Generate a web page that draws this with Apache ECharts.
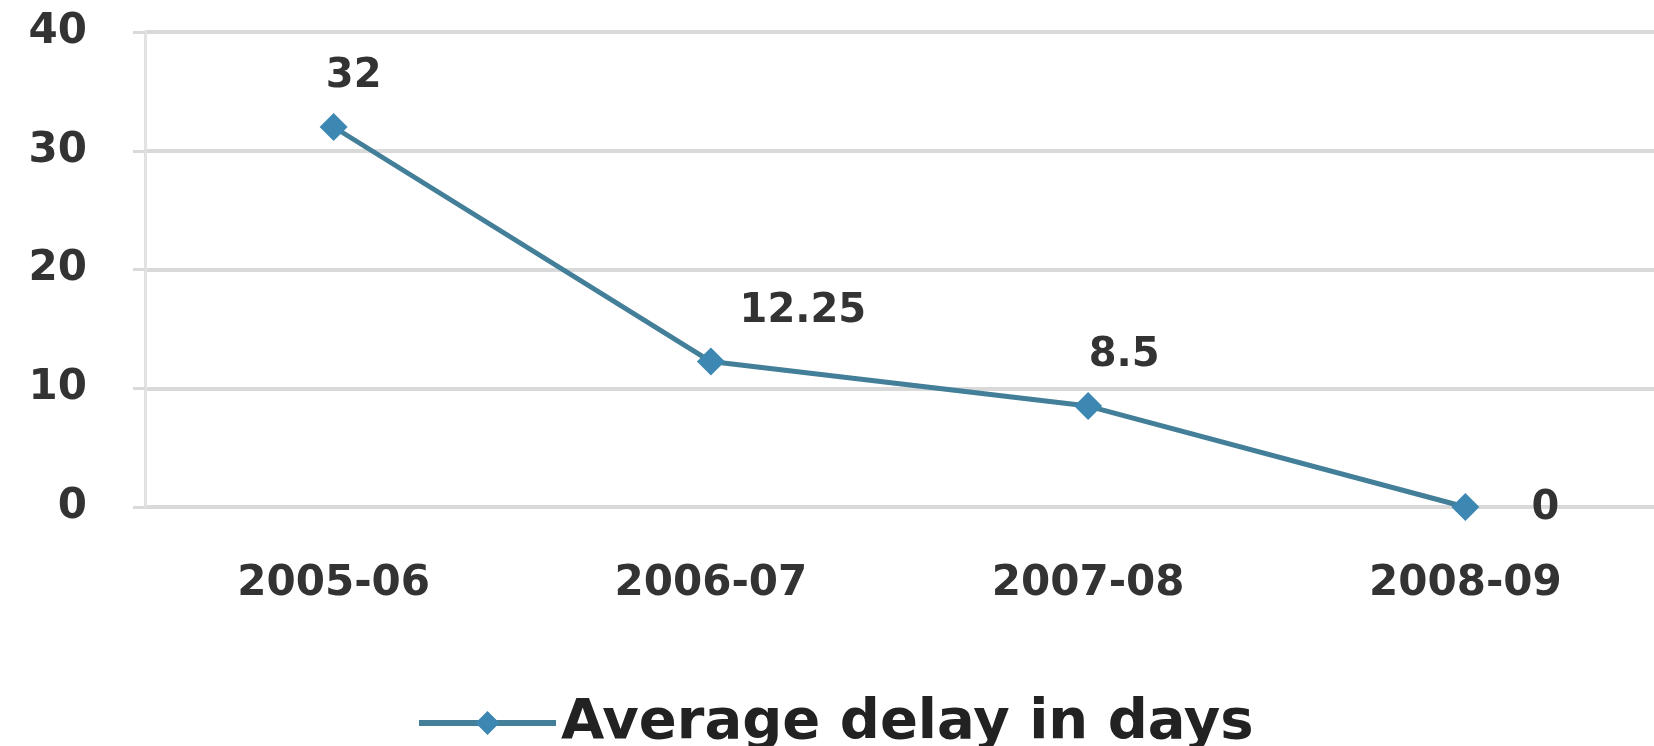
<!DOCTYPE html>
<html>
<head>
    <meta charset="utf-8">
    <title>ECharts</title>
    <script src="https://cdn.jsdelivr.net/npm/echarts@6/dist/echarts.min.js"></script>
    <style>
        html, body { margin: 0; padding: 0; background: #fff; }
    </style>
</head>
<body>
    <div id="main" style="width:1654px;height:746px;"></div>
    <script type="text/javascript">
        var years = ['2005-06', '2006-07', '2007-08', '2008-09'];
        var avgDelay = [32, 12.25, 8.5, 0];
        var yTicks = { min: 0, max: 40, interval: 10 };

        // label placement per point, like the excel original
        var labelOffsets = [[20, 0], [92, 0], [36, 0], [80, 52]];

        var myChart = echarts.init(document.getElementById('main'));

        var font = 'DejaVu Sans';
        var textColor = '#333';

        option = {
            animation: false,
            grid: { left: 145, right: 0, top: 32, bottom: 239 },
            legend: {
                left: 411,
                top: 690,
                itemWidth: 137,
                itemHeight: 30,
                itemGap: 12,
                lineStyle: { width: 6 },
                textStyle: { fontFamily: font, fontWeight: 'bold', fontSize: 56, color: '#222' },
                data: ['Average delay in days']
            },
            xAxis: {
                type: 'category',
                data: years,
                axisLine: { show: false },
                axisTick: { show: false },
                axisLabel: {
                    margin: 56,
                    fontFamily: font, fontWeight: 'bold', fontSize: 42, color: textColor
                }
            },
            yAxis: {
                type: 'value',
                min: yTicks.min,
                max: yTicks.max,
                interval: yTicks.interval,
                axisLine: { show: true, lineStyle: { color: '#e2e2e2', width: 3 } },
                axisTick: { show: true, length: 12, lineStyle: { color: '#d9d9d9', width: 3 } },
                splitLine: { lineStyle: { color: '#d9d9d9', width: 4 } },
                axisLabel: {
                    margin: 58,
                    fontFamily: font, fontWeight: 'bold', fontSize: 42, color: textColor
                }
            },
            series: [{
                name: 'Average delay in days',
                type: 'line',
                symbol: 'diamond',
                symbolSize: 28,
                itemStyle: { color: '#3d88b2' },
                lineStyle: { color: '#437f99', width: 5 },
                label: {
                    show: true,
                    position: 'top',
                    distance: 16,
                    fontFamily: font, fontWeight: 'bold', fontSize: 40, color: textColor
                },
                data: avgDelay.map(function (v, i) {
                    return { value: v, label: { offset: labelOffsets[i] } };
                })
            }]
        };
        myChart.setOption(option);
    </script>
</body>
</html>
